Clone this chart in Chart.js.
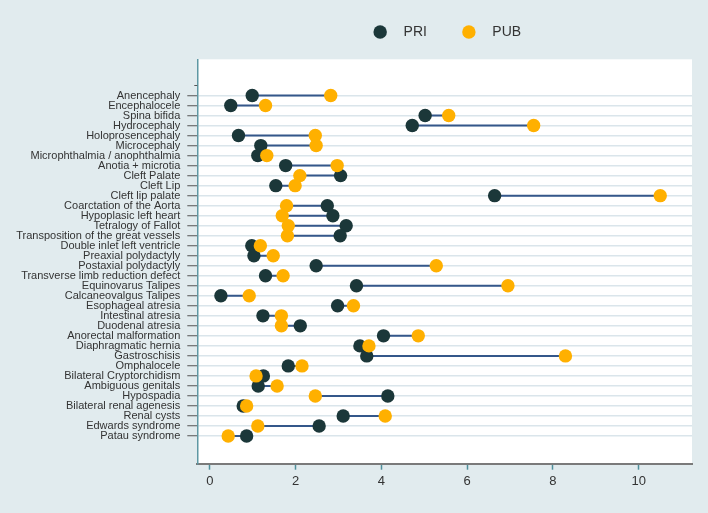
<!DOCTYPE html>
<html>
<head>
<meta charset="utf-8">
<script src="https://cdn.jsdelivr.net/npm/chart.js@4.4.1/dist/chart.umd.min.js"></script>
<style>
html,body{margin:0;padding:0;background:#e1ebee;}
#wrap{width:708px;height:513px;position:relative;}
</style>
</head>
<body>
<div id="wrap"><canvas id="c" width="708" height="513"></canvas></div>
<script>
const categories = [
  "Anencephaly", "Encephalocele", "Spina bifida", "Hydrocephaly", "Holoprosencephaly",
  "Microcephaly", "Microphthalmia / anophthalmia", "Anotia + microtia", "Cleft Palate", "Cleft Lip",
  "Cleft lip palate", "Coarctation of the Aorta", "Hypoplasic left heart", "Tetralogy of Fallot",
  "Transposition of the great vessels", "Double inlet left ventricle", "Preaxial polydactyly",
  "Postaxial polydactyly", "Transverse limb reduction defect", "Equinovarus Talipes",
  "Calcaneovalgus Talipes", "Esophageal atresia", "Intestinal atresia", "Duodenal atresia",
  "Anorectal malformation", "Diaphragmatic hernia", "Gastroschisis", "Omphalocele",
  "Bilateral Cryptorchidism", "Ambiguous genitals", "Hypospadia", "Bilateral renal agenesis",
  "Renal cysts", "Edwards syndrome", "Patau syndrome"
];
const pri = [
  0.99, 0.49, 5.02, 4.72, 0.67,
  1.19, 1.12, 1.77, 3.05, 1.54,
  6.64, 2.74, 2.87, 3.18,
  3.04, 0.98, 1.03,
  2.48, 1.30, 3.42,
  0.26, 2.98, 1.24, 2.11,
  4.05, 3.50, 3.66, 1.83,
  1.25, 1.13, 4.15, 0.78,
  3.11, 2.55, 0.86
];
const pub = [
  2.82, 1.30, 5.57, 7.55, 2.46,
  2.48, 1.33, 2.97, 2.10, 1.99,
  10.50, 1.79, 1.69, 1.83,
  1.81, 1.18, 1.48,
  5.28, 1.71, 6.95,
  0.92, 3.35, 1.67, 1.67,
  4.86, 3.71, 8.29, 2.15,
  1.08, 1.57, 2.46, 0.86,
  4.09, 1.12, 0.43
];
const seriesNames = ["PRI", "PUB"];
const xTicks = [0, 2, 4, 6, 8, 10];

const yTicks = [0].concat(categories.map((_, i) => i + 1));
const priPts = pri.map((v, i) => ({x: v, y: i + 1}));
const pubPts = pub.map((v, i) => ({x: v, y: i + 1}));
const connectors = [];
categories.forEach((_, i) => {
  connectors.push({x: pri[i], y: i + 1}, {x: pub[i], y: i + 1}, {x: null, y: null});
});

const PRI_COLOR = "#1b3739";
const PUB_COLOR = "#ffb000";
const LINE_COLOR = "#34578a";

Chart.defaults.font.family = "'Liberation Sans', Arial, sans-serif";
Chart.defaults.color = "#333";

const bgPlugin = {
  id: "bg",
  afterLayout(chart) {
    if (chart.legend) { chart.legend.left += 3.6; chart.legend.right += 3.6; }
  },
  beforeDraw(chart) {
    const {ctx, chartArea: a} = chart;
    ctx.save();
    ctx.fillStyle = "#e1ebee";
    ctx.fillRect(0, 0, chart.width, chart.height);
    ctx.fillStyle = "#ffffff";
    ctx.fillRect(a.left, a.top, a.right - a.left, a.bottom - a.top);
    ctx.restore();
  },
  afterDraw(chart) {
    const {ctx, chartArea: a} = chart;
    const y0 = Math.round(chart.scales.y.getPixelForValue(0)) + 0.5;
    ctx.save();
    ctx.strokeStyle = "#555";
    ctx.lineWidth = 1;
    ctx.beginPath();
    ctx.moveTo(a.left - 3, y0);
    ctx.lineTo(a.left, y0);
    ctx.stroke();
    ctx.restore();
  }
};

const sp = n => " ".repeat(n);

new Chart(document.getElementById("c"), {
  type: "scatter",
  data: {
    datasets: [
      {
        label: "connector",
        data: connectors,
        showLine: true,
        spanGaps: false,
        borderColor: LINE_COLOR,
        borderWidth: 2,
        pointRadius: 0,
        pointHoverRadius: 0,
        xAxisID: "x", yAxisID: "y",
        order: 3
      },
      {
        label: seriesNames[0],
        data: priPts,
        backgroundColor: PRI_COLOR,
        borderColor: PRI_COLOR,
        borderWidth: 0,
        pointRadius: 6.7,
        xAxisID: "x", yAxisID: "y",
        order: 2
      },
      {
        label: seriesNames[1],
        data: pubPts,
        backgroundColor: PUB_COLOR,
        borderColor: PUB_COLOR,
        borderWidth: 0,
        pointRadius: 6.7,
        xAxisID: "x", yAxisID: "y",
        order: 1
      }
    ]
  },
  options: {
    responsive: false,
    animation: false,
    layout: {padding: {top: 15, right: 16, bottom: 0, left: 0}},
    plugins: {
      tooltip: {enabled: false},
      legend: {
        position: "top",
        fullSize: false,
        align: "center",
        labels: {
          usePointStyle: true,
          boxWidth: 9.5,
          boxHeight: 9.5,
          padding: 10,
          color: "#333",
          font: {size: 14},
          generateLabels(chart) {
            return [1, 2].map((di, k) => {
              const ds = chart.data.datasets[di];
              return {
                text: sp(3) + ds.label + (k === 0 ? sp(7) : ""),
                fillStyle: ds.backgroundColor,
                strokeStyle: ds.backgroundColor,
                lineWidth: 0,
                pointStyle: "circle",
                hidden: false,
                datasetIndex: di,
                fontColor: "#333"
              };
            });
          }
        }
      }
    },
    scales: {
      x: {
        type: "linear",
        position: "bottom",
        min: -0.29,
        max: 11.24,
        afterBuildTicks(s) { s.ticks = xTicks.map(v => ({value: v})); },
        afterFit(s) { s.height = 49.3; },
        grid: {
          drawOnChartArea: false,
          drawTicks: true,
          tickLength: 6,
          tickColor: "#4f8f9b",
          tickWidth: 1.5
        },
        border: {display: true, color: "#7a7a7a", width: 2},
        ticks: {
          padding: 4,
          color: "#333",
          font: {size: 13},
          maxRotation: 0,
          callback: v => String(v)
        }
      },
      x2: {
        type: "linear",
        position: "top",
        display: true,
        afterFit(s) { s.height = 10.3; },
        grid: {display: false, drawTicks: false},
        border: {display: false},
        ticks: {display: false}
      },
      y: {
        type: "linear",
        position: "left",
        reverse: true,
        min: -2.615,
        max: 37.765,
        afterBuildTicks(s) { s.ticks = yTicks.map(v => ({value: v})); },
        afterFit(s) { s.width = 197.3; },
        grid: {
          color: c => (c.tick && c.tick.value === 0) ? "rgba(0,0,0,0)" : "#dae5eb",
          lineWidth: 1.5,
          drawTicks: true,
          tickLength: 10,
          tickColor: c => (c.tick && c.tick.value === 0) ? "rgba(0,0,0,0)" : "#555",
          tickWidth: 1
        },
        border: {display: true, color: "#5e98a3", width: 1.5},
        ticks: {
          padding: 7,
          color: "#333",
          font: {size: 11},
          autoSkip: false,
          callback: v => (v >= 1 && v <= categories.length) ? categories[v - 1] : ""
        }
      }
    }
  },
  plugins: [bgPlugin]
});
</script>
</body>
</html>
